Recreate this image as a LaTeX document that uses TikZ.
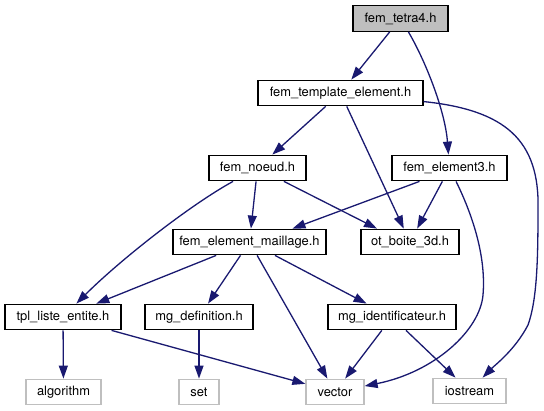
\documentclass[tikz,border=0pt]{standalone}
\usepackage{fontspec}
\setmainfont{TeX Gyre Heros}
\usetikzlibrary{arrows.meta}
\definecolor{edgeblue}{HTML}{191970}
\definecolor{boxgray}{HTML}{BFBFBF}
\tikzset{
  hdr/.style={draw=black, line width=1.3pt, minimum height=25.5pt, inner sep=0pt,
    font=\fontsize{12.9}{15}\selectfont},
  sys/.style={hdr, draw=boxgray},
  root/.style={hdr, fill=boxgray},
  dep/.style={draw=edgeblue, line width=1.3pt, -{Triangle[length=13pt,width=9pt]}},
}
\begin{document}
\begin{tikzpicture}[x=1pt, y=-1pt]
    \useasboundingbox (0,0) rectangle (544,411);

    % headers
    \node[root, minimum width=95pt]  (tetra)     at (400.5,18.5) {fem\_tetra4.h};
    \node[hdr, minimum width=165pt]  (templ)     at (340.5,93)   {fem\_template\_element.h};
    \node[hdr, minimum width=97pt]   (noeud)     at (257.5,168)  {fem\_noeud.h};
    \node[hdr, minimum width=115pt]  (elemthree) at (449.5,168)  {fem\_element3.h};
    \node[hdr, minimum width=153pt]  (maillage)  at (249.5,242)  {fem\_element\_maillage.h};
    \node[hdr, minimum width=98pt]   (boite)     at (410,242)    {ot\_boite\_3d.h};
    \node[hdr, minimum width=116pt]  (tpl)       at (63,317)     {tpl\_liste\_entite.h};
    \node[hdr, minimum width=108pt]  (mgdef)     at (199,317)    {mg\_definition.h};
    \node[hdr, minimum width=128pt]  (mgid)      at (392,317)    {mg\_identificateur.h};

    % system headers
    \node[sys, minimum width=75pt]   (algo)      at (63.5,392)   {algorithm};
    \node[sys, minimum width=40pt]   (set)       at (199,392)    {set};
    \node[sys, minimum width=58pt]   (vector)    at (335,392)    {vector};
    \node[sys, minimum width=73pt]   (iostream)  at (469.5,391)  {iostream};

    % dependencies
    \draw[dep] (tetra) -- (templ);
    \draw[dep] (tetra) .. controls (425,60) and (445,110) .. (elemthree);
    \draw[dep] (templ) -- (noeud);
    \draw[dep] (templ) -- (boite);
    \draw[dep] (templ) .. controls (505,110) and (540,140) .. (538,210)
        .. controls (538,260) and (537,300) .. (528,325)
        .. controls (515,350) and (495,365) .. (iostream);
    \draw[dep] (noeud) .. controls (190,205) and (120,260) .. (tpl);
    \draw[dep] (noeud) -- (maillage);
    \draw[dep] (noeud) -- ([xshift=-33pt]boite.north);
    \draw[dep] ([xshift=-30pt]elemthree.south) -- ([xshift=43pt]maillage.north);
    \draw[dep] (elemthree) -- (boite);
    \draw[dep] (elemthree) .. controls (475,220) and (486,260) .. (483,295)
        .. controls (480,330) and (435,372) .. (vector);
    \draw[dep] (maillage) -- (tpl);
    \draw[dep] (maillage) -- (mgdef);
    \draw[dep] (maillage) -- (vector);
    \draw[dep] (maillage) -- (mgid);
    \draw[dep] (tpl) -- (algo);
    \draw[dep] (tpl) -- (vector);
    \draw[dep] (mgdef) -- (set);
    \draw[dep] (mgid) -- (vector);
    \draw[dep] (mgid) -- (iostream);
\end{tikzpicture}
\end{document}
